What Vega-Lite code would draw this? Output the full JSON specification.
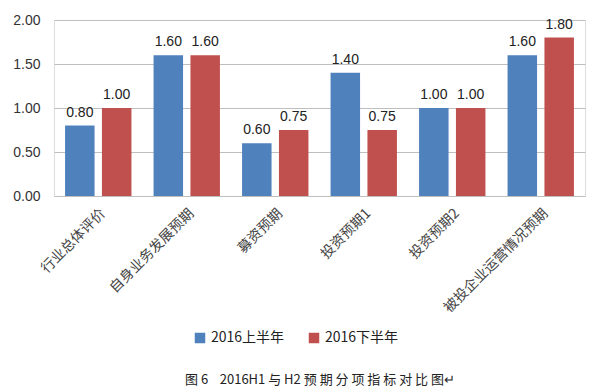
{
  "$schema": "https://vega.github.io/schema/vega-lite/v6.json",
  "width": 531,
  "height": 176,
  "autosize": {"type": "none"},
  "padding": {"left": 54, "top": 20, "right": 13, "bottom": 196},
  "background": "white",
  "data": {"values": [
    {"cat": "行业总体评价", "series": "2016上半年", "v": 0.80},
    {"cat": "行业总体评价", "series": "2016下半年", "v": 1.00},
    {"cat": "自身业务发展预期", "series": "2016上半年", "v": 1.60},
    {"cat": "自身业务发展预期", "series": "2016下半年", "v": 1.60},
    {"cat": "募资预期", "series": "2016上半年", "v": 0.60},
    {"cat": "募资预期", "series": "2016下半年", "v": 0.75},
    {"cat": "投资预期1", "series": "2016上半年", "v": 1.40},
    {"cat": "投资预期1", "series": "2016下半年", "v": 0.75},
    {"cat": "投资预期2", "series": "2016上半年", "v": 1.00},
    {"cat": "投资预期2", "series": "2016下半年", "v": 1.00},
    {"cat": "被投企业运营情况预期", "series": "2016上半年", "v": 1.60},
    {"cat": "被投企业运营情况预期", "series": "2016下半年", "v": 1.80}
  ]},
  "encoding": {
    "x": {
      "field": "cat", "type": "nominal", "sort": null,
      "scale": {"paddingInner": 0.25, "paddingOuter": 0.125},
      "axis": {
        "title": "图\u00a06\u00a0\u00a0\u00a0\u00a02016H1\u00a0与\u00a0H2\u00a0预\u00a0期\u00a0分\u00a0项\u00a0指\u00a0标\u00a0对\u00a0比\u00a0图↵",
        "titleFont": "Noto Sans CJK SC", "titleFontSize": 13, "titleFontWeight": "normal",
        "titleColor": "#222222", "titlePadding": 59, "titleAnchor": "middle",
        "labelAngle": -45, "labelFont": "Noto Sans CJK SC",
        "labelFontSize": 14, "labelColor": "#444444", "ticks": false,
        "domainColor": "#BFBFBF", "labelPadding": 10, "labelLimit": 300
      }
    },
    "xOffset": {"field": "series", "type": "nominal", "sort": ["2016上半年", "2016下半年"], "scale": {"paddingInner": 0.2}},
    "y": {
      "field": "v", "type": "quantitative",
      "scale": {"domain": [0, 2]},
      "axis": {
        "title": null, "values": [0, 0.5, 1, 1.5, 2], "format": ".2f",
        "domain": false, "ticks": false, "gridColor": "#BFBFBF",
        "labelFont": "Liberation Sans", "labelFontSize": 14, "labelColor": "#333333",
        "labelPadding": 14
      }
    }
  },
  "layer": [
    {
      "mark": {"type": "bar"},
      "encoding": {
        "color": {
          "field": "series", "type": "nominal", "sort": ["2016上半年", "2016下半年"],
          "scale": {"range": ["#4F81BD", "#C0504D"]},
          "legend": {
            "title": null, "orient": "none", "direction": "horizontal",
            "legendX": 139, "legendY": 311,
            "symbolType": "square", "symbolSize": 110, "symbolStrokeWidth": 0,
            "labelFont": "Noto Sans CJK SC", "labelFontSize": 14, "labelColor": "#222222",
            "columnPadding": 22, "labelOffset": 4
          }
        }
      }
    },
    {
      "mark": {"type": "text", "dy": -6, "baseline": "bottom", "font": "Liberation Sans", "fontSize": 14, "color": "#222222"},
      "encoding": {
        "text": {"field": "v", "type": "quantitative", "format": ".2f"}
      }
    }
  ]
}
